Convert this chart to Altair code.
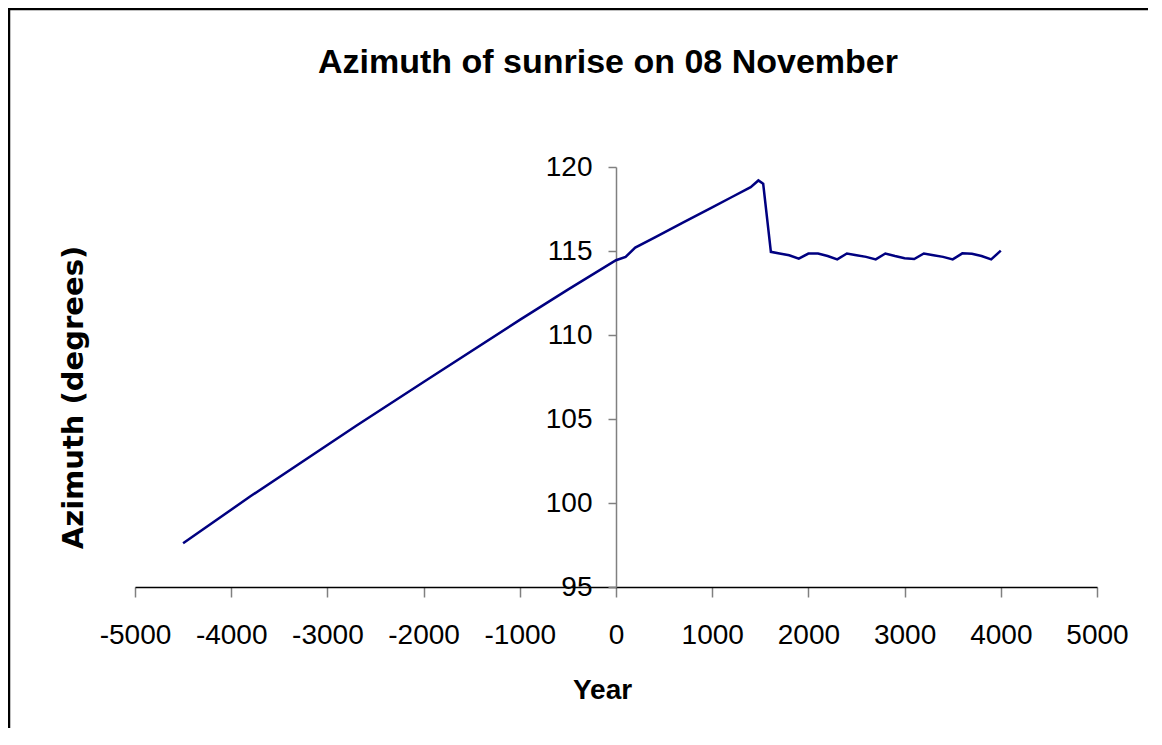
import altair as alt
import pandas as pd

# ---- data ----
years = [-4500, -3800, -2700, -2000, -1000, -500, 0, 100, 200, 400, 700, 1000,
         1200, 1400, 1480, 1530, 1610, 1700, 1800, 1900, 2000, 2100, 2200, 2300,
         2400, 2500, 2600, 2700, 2800, 2900, 3000, 3100, 3200, 3300, 3400, 3500,
         3600, 3700, 3800, 3900, 4000]
azimuth = [97.6, 100.4, 104.6, 107.2, 110.9, 112.7, 114.45, 114.65, 115.2, 115.8,
           116.7, 117.6, 118.2, 118.8, 119.2, 119.0, 114.95, 114.85, 114.75, 114.55,
           114.85, 114.85, 114.7, 114.5, 114.85, 114.75, 114.65, 114.5, 114.85, 114.7,
           114.57, 114.52, 114.85, 114.75, 114.65, 114.5, 114.86, 114.83, 114.7, 114.5,
           115.02]
x_ticks = [-5000, -4000, -3000, -2000, -1000, 0, 1000, 2000, 3000, 4000, 5000]
y_ticks = [95, 100, 105, 110, 115, 120]

title_text = "Azimuth of sunrise on 08 November"
x_title = "Year"
y_title = "Azimuth (degrees)"

df = pd.DataFrame({"year": years, "azimuth": azimuth})

W, H = 962, 420
FONT = "Liberation Sans"

line = alt.Chart(df).mark_line(color="#000080", strokeWidth=2.5).encode(
    x=alt.X("year:Q",
            scale=alt.Scale(domain=[x_ticks[0], x_ticks[-1]], nice=False, zero=False),
            axis=alt.Axis(values=x_ticks, labelExpr="datum.value + ''",
                          title=x_title, titleX=467, titleY=111,
                          titleAlign="center", titleBaseline="alphabetic", titleAngle=0,
                          titleFont=FONT, titleFontSize=28, titleFontWeight="bold",
                          titleColor="black",
                          labelFont=FONT, labelFontSize=28, labelColor="black",
                          labelPadding=24, labelFlush=False, labelOverlap=False,
                          tickSize=10, tickColor="#808080", tickWidth=1.5,
                          domainColor="black", domainWidth=1.3, grid=False)),
    y=alt.Y("azimuth:Q",
            scale=alt.Scale(domain=[y_ticks[0], y_ticks[-1]], nice=False, zero=False),
            axis=alt.Axis(values=y_ticks, labelExpr="datum.value + ''",
                          offset=-W / 2,
                          title=y_title, titleX=-534, titleY=230,
                          titleAlign="center", titleBaseline="alphabetic", titleAngle=270,
                          titleFont="DejaVu Sans", titleFontSize=29, titleFontWeight="bold",
                          titleColor="black",
                          labelFont=FONT, labelFontSize=28, labelColor="black",
                          labelPadding=16, labelFlush=False, labelOverlap=False,
                          tickSize=8, tickColor="#808080", tickWidth=1.5,
                          domainColor="#808080", domainWidth=1.5, grid=False)),
)

border = alt.Chart(pd.DataFrame({"a": [0]})).mark_rect(
    filled=False, stroke="black", strokeWidth=2.5
).encode(x=alt.value(-126), x2=alt.value(2000), y=alt.value(-158), y2=alt.value(2000))

chart = alt.layer(border, line).properties(
    width=W, height=H,
    title=alt.TitleParams(title_text, font=FONT, fontSize=34, fontWeight="bold",
                          color="black", anchor="middle", frame="group",
                          offset=-99, dx=-8, baseline="alphabetic"),
    padding={"left": 127, "top": 159, "right": 51, "bottom": 141},
    autosize=alt.AutoSizeParams(type="none"),
).configure(background="white").configure_view(stroke=None)

chart.save("out.html", embed_options={"renderer": "svg", "actions": False})
